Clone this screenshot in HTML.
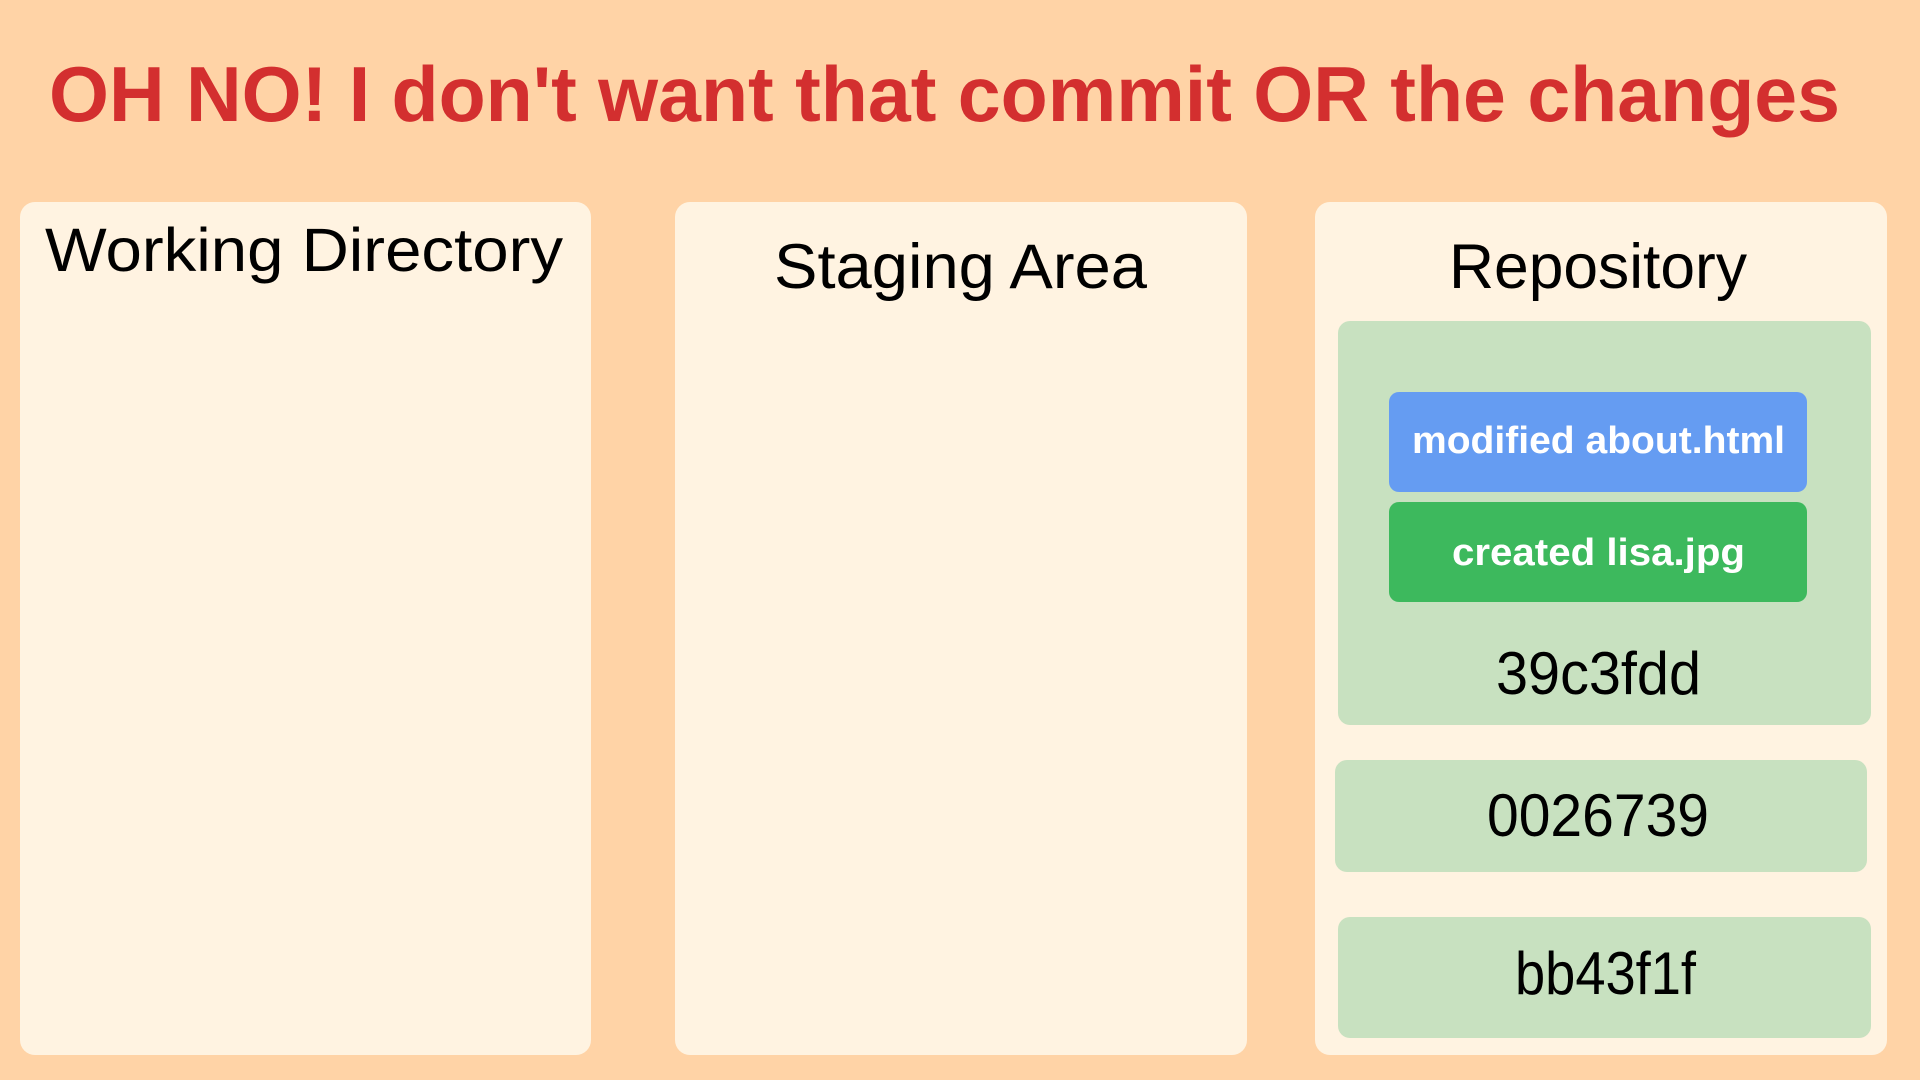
<!DOCTYPE html>
<html><head><meta charset="utf-8"><style>
html,body{margin:0;padding:0;background:#ffd3a6;}
svg{display:block}
text{font-family:"Liberation Sans",sans-serif}
</style></head><body>
<svg width="1920" height="1080" viewBox="0 0 1920 1080" xmlns="http://www.w3.org/2000/svg">
<rect width="1920" height="1080" fill="#ffd3a6"/>
<text x="49" y="121" font-size="78" font-weight="bold" fill="#d32f2f" textLength="1791" lengthAdjust="spacingAndGlyphs">OH NO! I don't want that commit OR the changes</text>
<rect x="20" y="202" width="571" height="853" rx="15" fill="#fff3e1"/>
<rect x="675" y="202" width="572" height="853" rx="15" fill="#fff3e1"/>
<rect x="1315" y="202" width="572" height="853" rx="15" fill="#fff3e1"/>
<text x="45" y="271" font-size="61" fill="#000" textLength="518" lengthAdjust="spacingAndGlyphs">Working Directory</text>
<text x="774" y="288" font-size="63" fill="#000" textLength="373" lengthAdjust="spacingAndGlyphs">Staging Area</text>
<text x="1449" y="288" font-size="63" fill="#000" textLength="298" lengthAdjust="spacingAndGlyphs">Repository</text>
<rect x="1338" y="321" width="533" height="404" rx="12" fill="#c8e1c0"/>
<rect x="1389" y="392" width="418" height="100" rx="10" fill="#659cf2"/>
<rect x="1389" y="502" width="418" height="100" rx="10" fill="#3db95d"/>
<text x="1412" y="453" font-size="38" font-weight="bold" fill="#fff" textLength="373" lengthAdjust="spacingAndGlyphs">modified about.html</text>
<text x="1452" y="565" font-size="38" font-weight="bold" fill="#fff" textLength="293" lengthAdjust="spacingAndGlyphs">created lisa.jpg</text>
<text x="1496" y="694" font-size="60" fill="#000" textLength="205" lengthAdjust="spacingAndGlyphs">39c3fdd</text>
<rect x="1335" y="760" width="532" height="112" rx="12" fill="#c8e1c0"/>
<text x="1487" y="836" font-size="60" fill="#000" textLength="222" lengthAdjust="spacingAndGlyphs">0026739</text>
<rect x="1338" y="917" width="533" height="121" rx="12" fill="#c8e1c0"/>
<text x="1515" y="994" font-size="60" fill="#000" textLength="181" lengthAdjust="spacingAndGlyphs">bb43f1f</text>
</svg>
</body></html>
